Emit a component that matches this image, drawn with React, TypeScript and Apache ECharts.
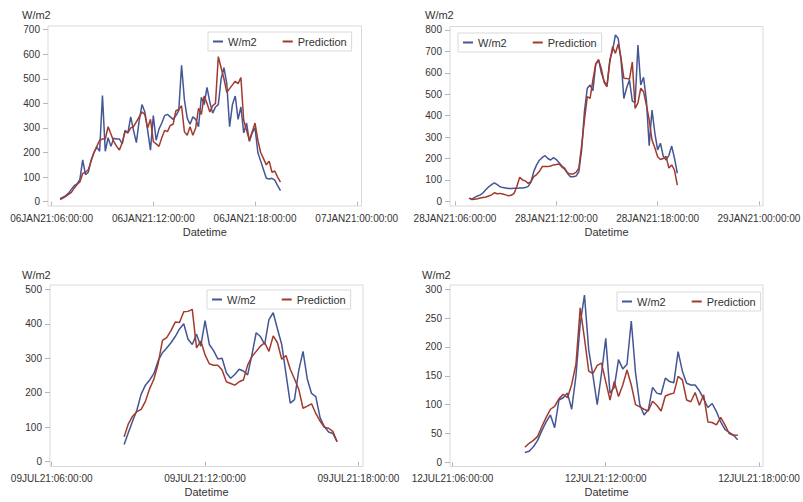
import React, { useEffect, useRef } from 'react';
import * as echarts from 'echarts';

const FONT = '"Liberation Sans", Arial, Helvetica, sans-serif';
const BLUE = '#445694';
const RED = '#A23A2E';
const TEXT = '#333333';
const FRAME = '#d9d9d9';
const TICK = '#b5b5b5';

const SERIES_NAMES = ['W/m2', 'Prediction'];
const Y_TITLE = 'W/m2';
const X_TITLE = 'Datetime';
const STEP_HOURS = 1 / 6; // 10-minute readings

// Panel 1: 06JAN21
const p1TickHours = [6, 12, 18, 24];
const p1TickLabels = ['06JAN21:06:00:00', '06JAN21:12:00:00', '06JAN21:18:00:00', '07JAN21:00:00:00'];
const p1YTicks = [0, 100, 200, 300, 400, 500, 600, 700];
const p1StartHour = 6.5;
const p1Blue = [12, 18, 25, 35, 50, 65, 72, 90, 170, 110,
  120, 170, 200, 222, 205, 432, 205, 260, 225, 258,
  255, 255, 235, 290, 280, 345, 290, 240, 330, 395,
  365, 290, 210, 350, 250, 295, 320, 350, 355, 345,
  335, 350, 370, 555, 415, 340, 315, 345, 335, 305,
  425, 395, 465, 405, 360, 385, 395, 500, 545, 480,
  305, 395, 430, 335, 385, 280, 320, 245, 280, 300,
  200, 165, 130, 95, 92, 95, 88, 65, 45];
const p1Red = [8, 15, 22, 30, 38, 55, 70, 80, 115, 120,
  130, 165, 200, 225, 250, 255, 255, 305, 275, 245,
  225, 210, 240, 285, 280, 300, 305, 325, 345, 365,
  355, 300, 335, 245, 235, 225, 260, 290, 285, 310,
  315, 370, 375, 390, 285, 270, 305, 270, 300, 380,
  355, 430, 400, 365, 390, 400, 590, 545, 500, 445,
  460, 475, 490, 480, 505, 330, 290, 250, 285, 320,
  250, 200, 175, 150, 165, 120, 125, 100, 80];

// Panel 2: 28JAN21
const p2TickHours = [6, 12, 18, 24];
const p2TickLabels = ['28JAN21:06:00:00', '28JAN21:12:00:00', '28JAN21:18:00:00', '29JAN21:00:00:00'];
const p2YTicks = [0, 100, 200, 300, 400, 500, 600, 700, 800];
const p2StartHour = 6 + 50 / 60;
const p2Blue = [15, 10, 18, 25, 30, 40, 55, 68, 78, 86,
  78, 68, 64, 62, 60, 60, 61, 61, 62, 62,
  64, 70, 90, 140, 170, 192, 205, 213, 200, 193,
  204, 195, 180, 165, 154, 130, 115, 115, 118, 138,
  240, 420, 528, 543, 517, 640, 662, 600, 560, 540,
  660, 705, 777, 760, 660, 480, 530, 566, 468, 461,
  730, 543, 579, 473, 260, 426, 320, 240, 271, 210,
  193, 215, 258, 200, 131];
const p2Red = [15, 8, 10, 12, 15, 18, 20, 25, 30, 40,
  35, 37, 34, 30, 26, 28, 37, 70, 112, 100,
  95, 84, 92, 115, 125, 140, 162, 162, 162, 165,
  170, 172, 174, 160, 150, 132, 128, 128, 135, 155,
  260, 380, 489, 481, 567, 640, 660, 620, 555, 535,
  650, 722, 691, 735, 668, 575, 574, 570, 650, 434,
  460, 528, 512, 450, 380, 286, 250, 208, 195, 200,
  210, 155, 170, 145, 76];

// Panel 3: 09JUL21
const p3TickHours = [6, 12, 18];
const p3TickLabels = ['09JUL21:06:00:00', '09JUL21:12:00:00', '09JUL21:18:00:00'];
const p3YTicks = [0, 100, 200, 300, 400, 500];
const p3StartHour = 8 + 50 / 60;
const p3Blue = [50, 85, 118, 150, 196, 222, 237, 256, 293, 316,
  330, 345, 363, 385, 400, 355, 340, 370, 335, 409,
  340, 322, 298, 300, 258, 242, 253, 268, 263, 252,
  310, 374, 363, 340, 412, 432, 385, 340, 255, 170,
  180, 265, 320, 240, 198, 189, 128, 102, 86, 82,
  58];
const p3Red = [72, 110, 132, 145, 152, 175, 212, 240, 285, 352,
  360, 380, 405, 404, 435, 436, 442, 330, 350, 310,
  284, 280, 280, 266, 232, 227, 222, 232, 237, 280,
  305, 320, 335, 345, 320, 365, 345, 297, 308, 268,
  240, 210, 155, 161, 168, 140, 118, 100, 97, 88,
  58];

// Panel 4: 12JUL21
const p4TickHours = [6, 12, 18];
const p4TickLabels = ['12JUL21:06:00:00', '12JUL21:12:00:00', '12JUL21:18:00:00'];
const p4YTicks = [0, 50, 100, 150, 200, 250, 300];
const p4StartHour = 8 + 50 / 60;
const p4Blue = [17, 19, 27, 38, 55, 70, 82, 60, 108, 112,
  120, 92, 150, 240, 290, 195, 150, 100, 154, 215,
  120, 130, 178, 162, 170, 245, 155, 100, 82, 91,
  130, 120, 118, 146, 140, 138, 192, 158, 137, 134,
  134, 124, 110, 95, 102, 88, 70, 57, 52, 47,
  39];
const p4Red = [26, 33, 38, 45, 62, 78, 92, 97, 110, 118,
  112, 135, 170, 268, 215, 158, 154, 168, 172, 140,
  108, 140, 114, 134, 160, 134, 100, 96, 92, 89,
  106, 99, 89, 115, 118, 120, 149, 143, 108, 105,
  121, 99, 117, 70, 69, 65, 78, 65, 50, 47,
  47];

const panels = [
  {
    grid: { left: 48, top: 26, width: 313.5, height: 180 },
    xMin: 5.788, xMax: 24.28, yMin: -17.5, yMax: 714.6,
    tickHours: p1TickHours, tickLabels: p1TickLabels, yTicks: p1YTicks,
    start: p1StartHour, blue: p1Blue, red: p1Red,
    legend: { left: 208, top: 32 }, yTitle: { x: 22, y: 9 }, xTitleY: 226, labelMargin: 7,
  },
  {
    grid: { left: 450, top: 26.5, width: 313, height: 179.5 },
    xMin: 5.704, xMax: 24.24, yMin: -21.9, yMax: 816.3,
    tickHours: p2TickHours, tickLabels: p2TickLabels, yTicks: p2YTicks,
    start: p2StartHour, blue: p2Blue, red: p2Red,
    legend: { left: 458, top: 33 }, yTitle: { x: 425, y: 9 }, xTitleY: 226, labelMargin: 7,
  },
  {
    grid: { left: 50, top: 285, width: 313, height: 181.5 },
    xMin: 5.933, xMax: 18.18, yMin: -13.9, yMax: 512.5,
    tickHours: p3TickHours, tickLabels: p3TickLabels, yTicks: p3YTicks,
    start: p3StartHour, blue: p3Blue, red: p3Red,
    legend: { left: 207, top: 290 }, yTitle: { x: 22, y: 269 }, xTitleY: 486, labelMargin: 6.5,
  },
  {
    grid: { left: 450, top: 285, width: 313, height: 181.5 },
    xMin: 5.902, xMax: 18.157, yMin: -7.3, yMax: 307.5,
    tickHours: p4TickHours, tickLabels: p4TickLabels, yTicks: p4YTicks,
    start: p4StartHour, blue: p4Blue, red: p4Red,
    legend: { left: 617, top: 292 }, yTitle: { x: 422, y: 269 }, xTitleY: 486, labelMargin: 6.5,
  },
];

function toPoints(start: number, values: number[]) {
  return values.map((v, i) => [start + i * STEP_HOURS, v]);
}

function buildOption() {
  const grid: any[] = [];
  const xAxis: any[] = [];
  const yAxis: any[] = [];
  const series: any[] = [];
  const legend: any[] = [];
  const graphic: any[] = [];

  panels.forEach((p, i) => {
    grid.push({
      ...p.grid,
      show: true,
      borderColor: FRAME,
      borderWidth: 1,
      backgroundColor: 'transparent',
      containLabel: false,
      outerBoundsMode: 'none',
    });
    xAxis.push({
      type: 'value',
      gridIndex: i,
      min: p.xMin,
      max: p.xMax,
      axisLine: { show: false },
      axisTick: { show: true, length: 4, lineStyle: { color: TICK }, customValues: p.tickHours },
      axisLabel: {
        show: true,
        customValues: p.tickHours,
        margin: p.labelMargin,
        fontSize: 10,
        fontFamily: FONT,
        color: TEXT,
        hideOverlap: false,
        formatter: (v: number) => {
          const idx = p.tickHours.findIndex((h) => Math.abs(h - v) < 1e-6);
          return idx >= 0 ? p.tickLabels[idx] : '';
        },
      },
      splitLine: { show: false },
    });
    yAxis.push({
      type: 'value',
      gridIndex: i,
      min: p.yMin,
      max: p.yMax,
      axisLine: { show: false },
      axisTick: { show: true, length: 5, lineStyle: { color: TICK }, customValues: p.yTicks },
      axisLabel: {
        show: true,
        customValues: p.yTicks,
        margin: 8,
        fontSize: 10,
        fontFamily: FONT,
        color: TEXT,
        hideOverlap: false,
        formatter: (v: number) => String(Math.round(v)),
      },
      splitLine: { show: false },
    });
    series.push({
      name: SERIES_NAMES[0],
      type: 'line',
      xAxisIndex: i,
      yAxisIndex: i,
      data: toPoints(p.start, p.blue),
      symbol: 'none',
      showSymbol: false,
      lineStyle: { color: BLUE, width: 1.5 },
      itemStyle: { color: BLUE },
      z: 2,
    });
    series.push({
      name: SERIES_NAMES[1],
      type: 'line',
      xAxisIndex: i,
      yAxisIndex: i,
      data: toPoints(p.start, p.red),
      symbol: 'none',
      showSymbol: false,
      lineStyle: { color: RED, width: 1.5 },
      itemStyle: { color: RED },
      z: 3,
    });
    legend.push({
      left: p.legend.left,
      top: p.legend.top,
      orient: 'horizontal',
      data: SERIES_NAMES,
      icon: 'rect',
      itemWidth: 10,
      itemHeight: 2,
      itemGap: 26,
      padding: [4, 5, 4, 5],
      borderColor: FRAME,
      borderWidth: 1,
      borderRadius: 0,
      backgroundColor: '#ffffff',
      selectedMode: false,
      textStyle: { fontSize: 11, fontFamily: FONT, color: TEXT },
    });
    graphic.push({
      type: 'text',
      x: p.yTitle.x,
      y: p.yTitle.y,
      silent: true,
      style: { text: Y_TITLE, fontSize: 11, fontFamily: FONT, fill: TEXT, align: 'left', verticalAlign: 'top' },
    });
    graphic.push({
      type: 'text',
      x: p.grid.left + p.grid.width / 2,
      y: p.xTitleY,
      silent: true,
      style: { text: X_TITLE, fontSize: 11, fontFamily: FONT, fill: TEXT, align: 'center', verticalAlign: 'top' },
    });
  });

  return {
    animation: false,
    backgroundColor: '#ffffff',
    textStyle: { fontFamily: FONT },
    grid,
    xAxis,
    yAxis,
    legend,
    graphic,
    series,
  };
}

export default function App() {
  const ref = useRef<HTMLDivElement>(null);
  useEffect(() => {
    if (!ref.current) return;
    const chart = echarts.init(ref.current, null, { renderer: 'svg' });
    chart.setOption(buildOption() as any);
    return () => {
      chart.dispose();
    };
  }, []);
  return (
    <div
      ref={ref}
      style={{ position: 'absolute', left: 0, top: 0, width: 803, height: 502, background: '#ffffff' }}
    />
  );
}
